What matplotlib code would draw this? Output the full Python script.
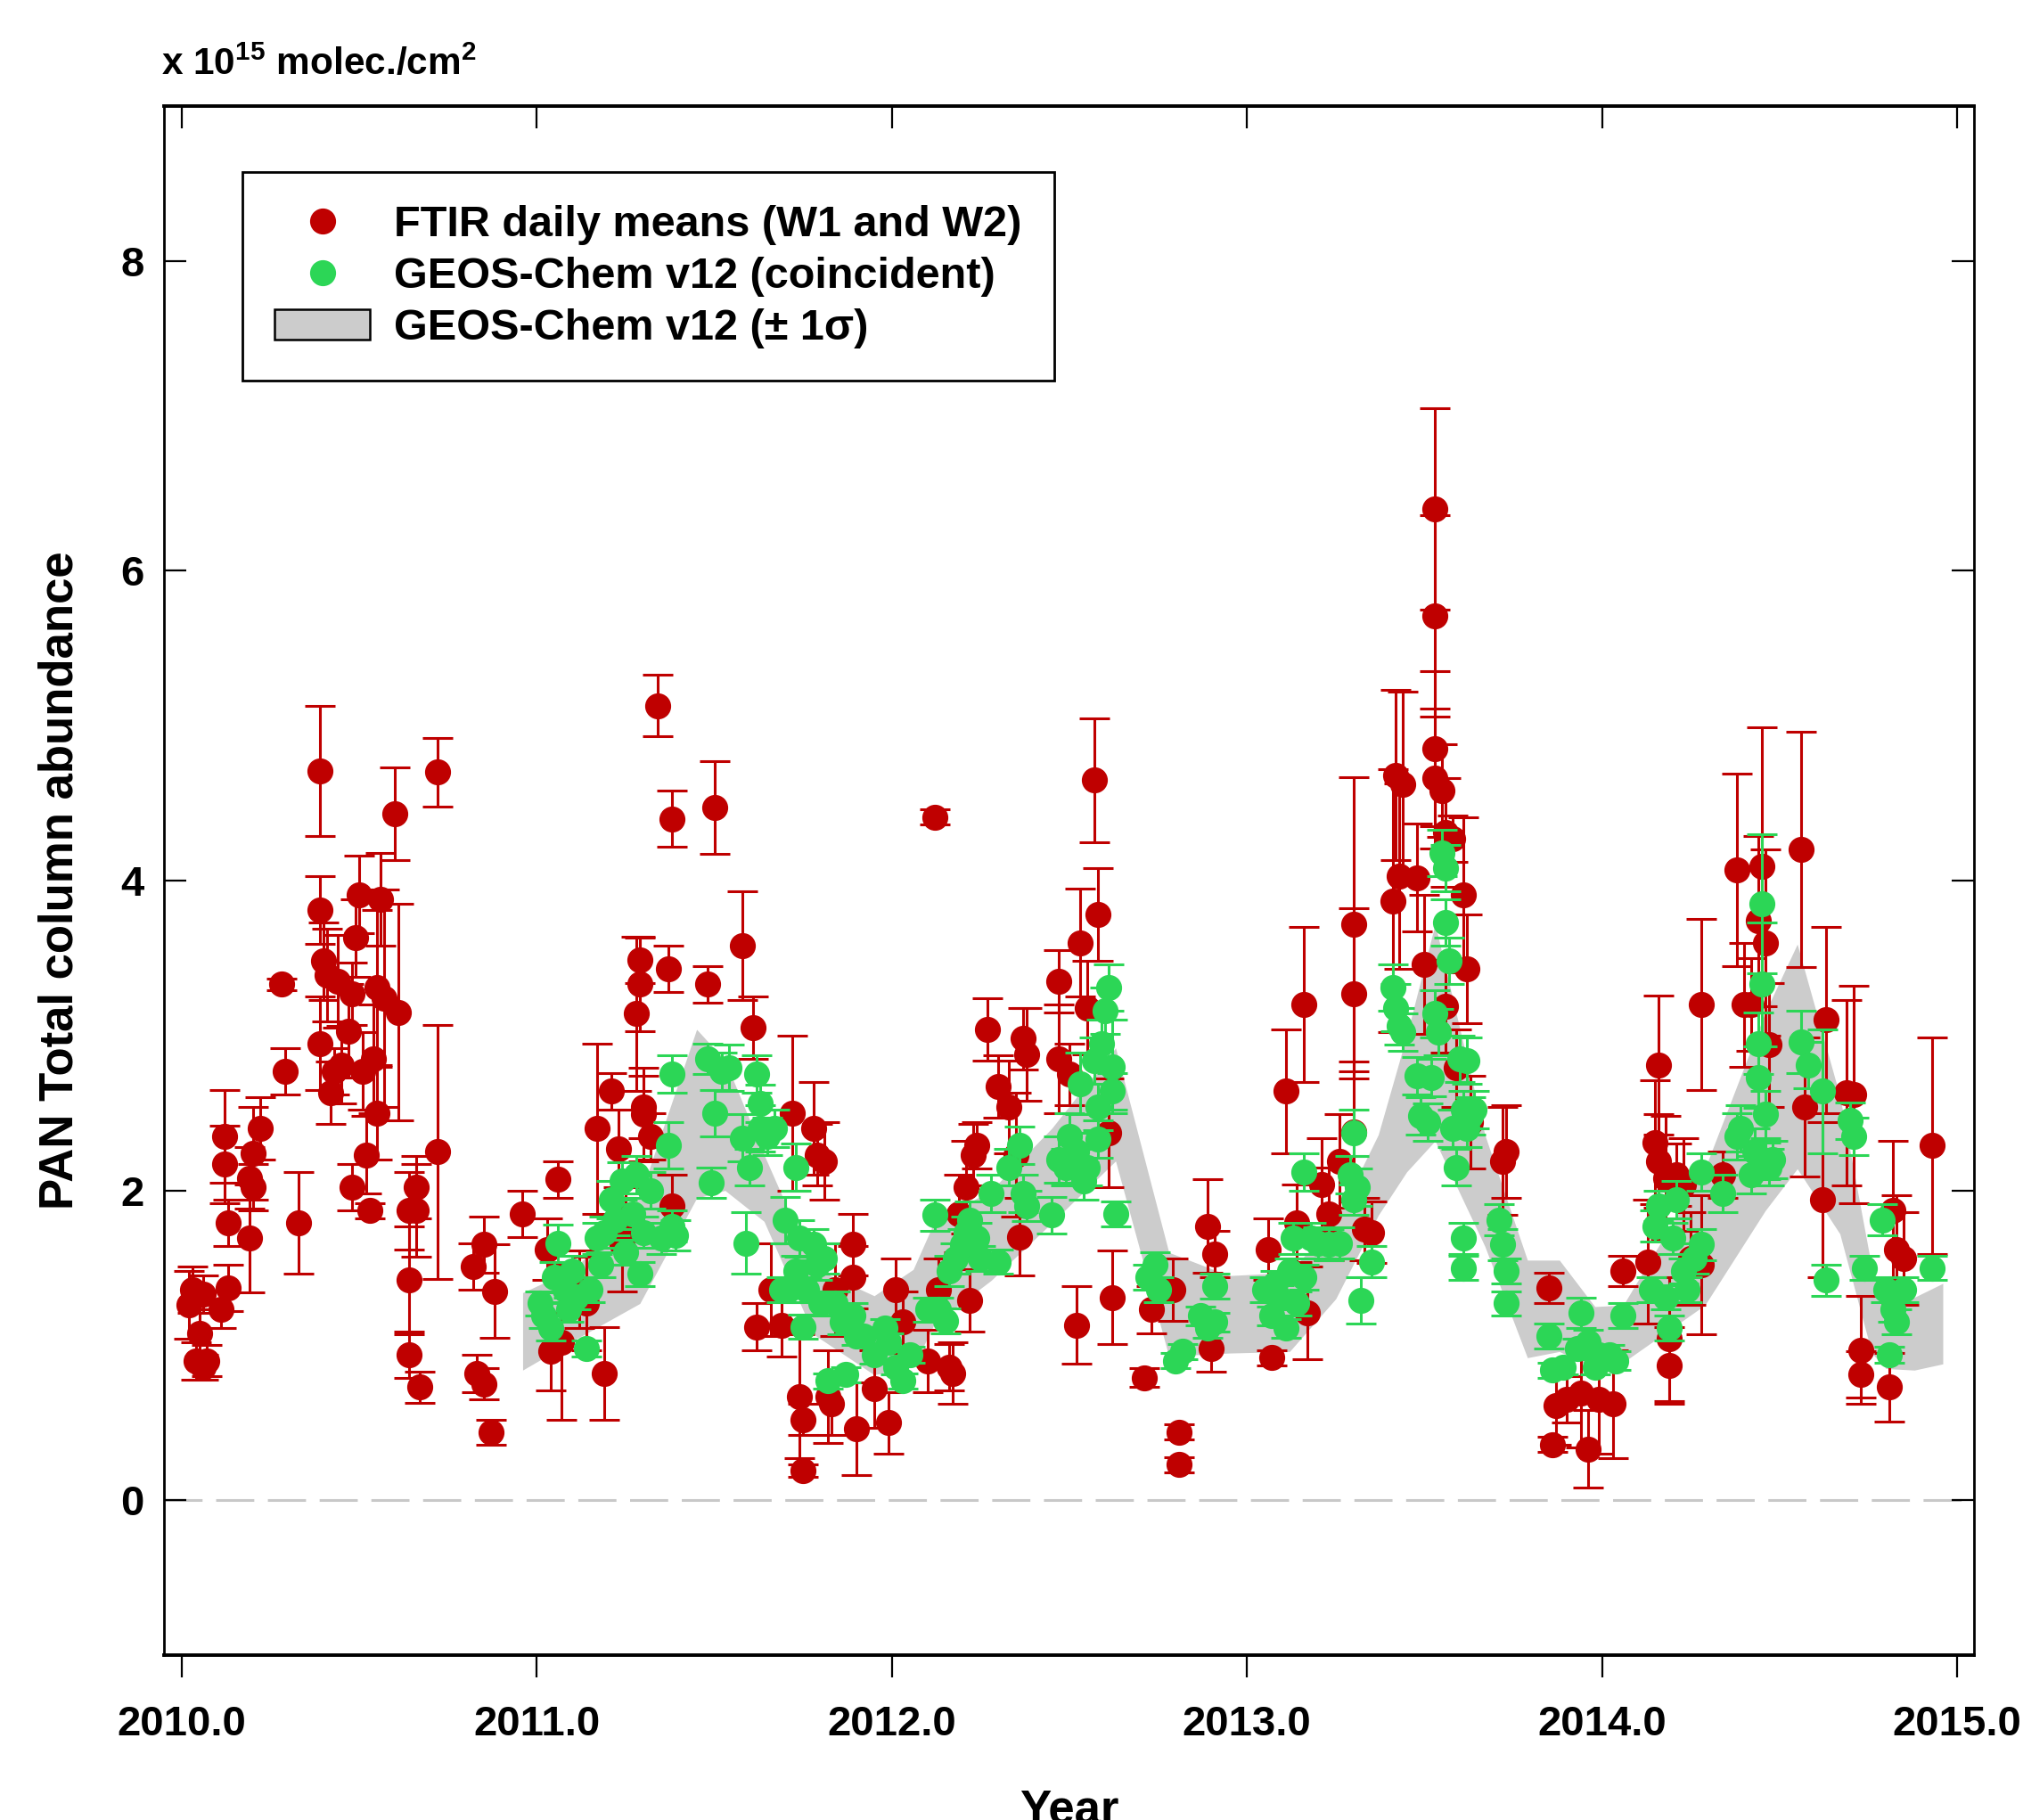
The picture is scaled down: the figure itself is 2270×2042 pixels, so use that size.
import matplotlib
matplotlib.use('Agg')
import matplotlib.pyplot as plt
from matplotlib.lines import Line2D
from matplotlib.patches import Patch

plt.rcParams['font.family'] = ['Liberation Sans', 'DejaVu Sans']
plt.rcParams['font.weight'] = 'bold'
plt.rcParams['mathtext.fontset'] = 'custom'
plt.rcParams['mathtext.bf'] = 'Liberation Sans:bold'
plt.rcParams['mathtext.rm'] = 'Liberation Sans:bold'

# FTIR daily means (W1 and W2), 1e15 molec/cm2
ftir_year = [2010.02, 2010.03, 2010.04, 2010.05, 2010.06, 2010.06, 2010.07, 2010.11, 2010.12, 2010.12,
             2010.13, 2010.13, 2010.19, 2010.19, 2010.20, 2010.20, 2010.22, 2010.28, 2010.29, 2010.33,
             2010.39, 2010.39, 2010.39, 2010.40, 2010.41, 2010.42, 2010.43, 2010.44, 2010.45, 2010.47,
             2010.48, 2010.48, 2010.49, 2010.50, 2010.51, 2010.52, 2010.53, 2010.54, 2010.55, 2010.55,
             2010.56, 2010.57, 2010.60, 2010.61, 2010.64, 2010.64, 2010.64, 2010.66, 2010.66, 2010.67,
             2010.72, 2010.72, 2010.82, 2010.83, 2010.85, 2010.85, 2010.87, 2010.88, 2010.96, 2011.03,
             2011.04, 2011.06, 2011.07, 2011.12, 2011.14, 2011.17, 2011.19, 2011.21, 2011.23, 2011.24,
             2011.25, 2011.28, 2011.29, 2011.29, 2011.30, 2011.30, 2011.32, 2011.34, 2011.37, 2011.38,
             2011.38, 2011.48, 2011.50, 2011.58, 2011.61, 2011.62, 2011.66, 2011.69, 2011.72, 2011.74,
             2011.75, 2011.75, 2011.78, 2011.79, 2011.81, 2011.82, 2011.83, 2011.84, 2011.89, 2011.89,
             2011.90, 2011.95, 2011.99, 2012.01, 2012.03, 2012.10, 2012.12, 2012.13, 2012.16, 2012.17,
             2012.19, 2012.21, 2012.22, 2012.23, 2012.24, 2012.27, 2012.30, 2012.33, 2012.35, 2012.36,
             2012.37, 2012.38, 2012.47, 2012.47, 2012.50, 2012.52, 2012.53, 2012.55, 2012.57, 2012.58,
             2012.61, 2012.62, 2012.71, 2012.73, 2012.79, 2012.81, 2012.81, 2012.89, 2012.90, 2012.91,
             2013.06, 2013.07, 2013.11, 2013.14, 2013.16, 2013.17, 2013.21, 2013.23, 2013.26, 2013.30,
             2013.30, 2013.30, 2013.33, 2013.35, 2013.41, 2013.42, 2013.43, 2013.44, 2013.48, 2013.50,
             2013.53, 2013.53, 2013.53, 2013.53, 2013.55, 2013.56, 2013.58, 2013.56, 2013.59, 2013.61,
             2013.62, 2013.63, 2013.72, 2013.73, 2013.85, 2013.86, 2013.87, 2013.90, 2013.94, 2013.96,
             2013.99, 2014.03, 2014.06, 2014.13, 2014.15, 2014.16, 2014.16, 2014.18, 2014.19, 2014.19,
             2014.21, 2014.23, 2014.25, 2014.28, 2014.28, 2014.34, 2014.38, 2014.40, 2014.42, 2014.44,
             2014.45, 2014.46, 2014.47, 2014.56, 2014.57, 2014.62, 2014.63, 2014.69, 2014.71, 2014.73,
             2014.73, 2014.81, 2014.82, 2014.83, 2014.85, 2014.93]
ftir_val = [1.26, 1.36, 0.90, 1.08, 0.86, 1.33, 0.90, 1.23, 2.35, 2.17,
            1.79, 1.37, 1.69, 2.08, 2.24, 2.02, 2.40, 3.33, 2.77, 1.79,
            4.71, 3.81, 2.95, 3.48, 3.39, 2.63, 2.77, 3.35, 2.81, 3.03,
            3.27, 2.02, 3.63, 3.91, 2.77, 2.23, 1.87, 2.85, 2.50, 3.31,
            3.88, 3.24, 4.43, 3.15, 1.42, 0.94, 1.87, 2.02, 1.87, 0.73,
            4.70, 2.25, 1.51, 0.82, 0.75, 1.65, 0.44, 1.35, 1.85, 1.62,
            0.96, 2.07, 1.02, 1.36, 1.27, 2.40, 0.82, 2.64, 2.27, 1.65,
            1.77, 3.14, 3.33, 3.49, 2.54, 2.49, 2.35, 5.13, 3.43, 4.40,
            1.90, 3.33, 4.47, 3.58, 3.05, 1.12, 1.36, 1.13, 2.50, 0.67,
            0.52, 0.19, 2.40, 2.23, 2.19, 0.67, 0.62, 1.36, 1.44, 1.65,
            0.46, 0.72, 0.50, 1.36, 1.15, 0.90, 4.41, 1.36, 0.86, 0.82,
            1.85, 2.02, 1.29, 2.23, 2.29, 3.04, 2.67, 2.54, 2.23, 1.70,
            2.98, 2.88, 3.35, 2.85, 2.75, 1.13, 3.60, 3.18, 4.65, 3.78,
            2.37, 1.31, 0.79, 1.23, 1.36, 0.44, 0.23, 1.77, 0.98, 1.59,
            1.62, 0.92, 2.64, 1.79, 3.20, 1.21, 2.04, 1.85, 2.19, 3.72,
            3.27, 2.38, 1.75, 1.73, 3.87, 4.68, 4.03, 4.62, 4.02, 3.46,
            6.40, 5.71, 4.85, 4.66, 4.58, 4.31, 4.27, 3.19, 2.79, 3.91,
            3.43, 2.44, 2.19, 2.25, 1.37, 0.36, 0.61, 0.65, 0.69, 0.33,
            0.65, 0.62, 1.48, 1.54, 2.31, 2.81, 2.19, 2.08, 0.87, 1.04,
            2.10, 2.04, 1.56, 3.20, 1.52, 2.10, 4.07, 3.20, 3.20, 3.74,
            4.09, 3.60, 2.94, 4.20, 2.54, 1.94, 3.10, 2.63, 2.62, 0.97,
            0.81, 0.73, 1.87, 1.62, 1.56, 2.29]
ftir_err = [0.22, 0.15, 0.12, 0.15, 0.08, 0.12, 0.10, 0.12, 0.30, 0.25,
            0.15, 0.15, 0.35, 0.20, 0.30, 0.15, 0.20, 0.04, 0.15, 0.33,
            0.42, 0.22, 0.30, 0.25, 0.30, 0.20, 0.15, 0.30, 0.25, 0.30,
            0.20, 0.15, 0.25, 0.25, 0.25, 0.25, 0.05, 0.35, 0.30, 0.50,
            0.30, 0.70, 0.30, 0.70, 0.35, 0.15, 0.25, 0.20, 0.30, 0.10,
            0.22, 0.82, 0.15, 0.12, 0.10, 0.18, 0.08, 0.30, 0.15, 0.20,
            0.25, 0.12, 0.50, 0.25, 0.30, 0.55, 0.30, 0.12, 0.25, 0.30,
            0.25, 0.50, 0.30, 0.15, 0.20, 0.30, 0.15, 0.20, 0.15, 0.18,
            0.20, 0.12, 0.30, 0.35, 0.20, 0.15, 0.30, 0.20, 0.50, 0.40,
            0.10, 0.04, 0.30, 0.20, 0.25, 0.30, 0.20, 0.30, 0.20, 0.20,
            0.30, 0.25, 0.20, 0.20, 0.20, 0.20, 0.05, 0.20, 0.15, 0.20,
            0.25, 0.30, 0.20, 0.20, 0.15, 0.20, 0.20, 0.30, 0.40, 0.25,
            0.20, 0.30, 0.20, 0.35, 0.20, 0.25, 0.35, 0.30, 0.40, 0.30,
            0.35, 0.30, 0.06, 0.15, 0.20, 0.05, 0.05, 0.30, 0.15, 0.15,
            0.20, 0.05, 0.40, 0.25, 0.50, 0.30, 0.30, 0.30, 0.30, 0.95,
            0.55, 0.45, 0.20, 0.20, 0.85, 0.55, 0.60, 0.60, 0.35, 0.45,
            0.65, 0.65, 0.50, 0.45, 0.30, 0.35, 0.15, 0.30, 0.25, 0.50,
            0.35, 0.30, 0.35, 0.30, 0.10, 0.05, 0.25, 0.15, 0.35, 0.25,
            0.35, 0.35, 0.10, 0.40, 0.40, 0.45, 0.30, 0.40, 0.25, 0.40,
            0.20, 0.30, 0.30, 0.55, 0.45, 0.15, 0.62, 0.40, 0.30, 0.55,
            0.90, 0.60, 0.40, 0.76, 0.45, 0.50, 0.60, 0.60, 0.70, 0.35,
            0.15, 0.22, 0.45, 0.35, 0.30, 0.70]

# GEOS-Chem v12 coincident with FTIR
gc_year = [2011.01, 2011.02, 2011.04, 2011.05, 2011.06, 2011.08, 2011.09, 2011.10, 2011.11, 2011.14,
           2011.15, 2011.17, 2011.18, 2011.19, 2011.21, 2011.22, 2011.24, 2011.25, 2011.27, 2011.28,
           2011.29, 2011.30, 2011.32, 2011.35, 2011.37, 2011.38, 2011.38, 2011.39, 2011.48, 2011.49,
           2011.50, 2011.52, 2011.54, 2011.58, 2011.59, 2011.60, 2011.62, 2011.63, 2011.63, 2011.65,
           2011.67, 2011.69, 2011.70, 2011.71, 2011.73, 2011.73, 2011.74, 2011.75, 2011.76, 2011.78,
           2011.79, 2011.80, 2011.81, 2011.82, 2011.84, 2011.86, 2011.87, 2011.89, 2011.90, 2011.92,
           2011.95, 2011.98, 2011.99, 2012.01, 2012.03, 2012.05, 2012.10, 2012.12, 2012.13, 2012.15,
           2012.16, 2012.18, 2012.20, 2012.21, 2012.22, 2012.24, 2012.25, 2012.28, 2012.30, 2012.33,
           2012.36, 2012.37, 2012.38, 2012.45, 2012.47, 2012.49, 2012.50, 2012.52, 2012.53, 2012.54,
           2012.55, 2012.57, 2012.58, 2012.58, 2012.59, 2012.60, 2012.61, 2012.62, 2012.62, 2012.63,
           2012.72, 2012.74, 2012.75, 2012.80, 2012.82, 2012.87, 2012.89, 2012.91, 2012.91, 2013.05,
           2013.07, 2013.08, 2013.09, 2013.11, 2013.12, 2013.13, 2013.14, 2013.16, 2013.16, 2013.18,
           2013.20, 2013.23, 2013.26, 2013.29, 2013.30, 2013.30, 2013.31, 2013.32, 2013.35, 2013.41,
           2013.42, 2013.43, 2013.44, 2013.48, 2013.49, 2013.51, 2013.52, 2013.53, 2013.54, 2013.55,
           2013.56, 2013.56, 2013.57, 2013.58, 2013.59, 2013.60, 2013.61, 2013.61, 2013.62, 2013.62,
           2013.63, 2013.64, 2013.61, 2013.71, 2013.72, 2013.73, 2013.73, 2013.85, 2013.86, 2013.89,
           2013.93, 2013.94, 2013.96, 2013.98, 2013.99, 2014.02, 2014.04, 2014.06, 2014.14, 2014.15,
           2014.16, 2014.18, 2014.19, 2014.20, 2014.21, 2014.23, 2014.24, 2014.26, 2014.28, 2014.28,
           2014.34, 2014.38, 2014.39, 2014.42, 2014.43, 2014.44, 2014.44, 2014.45, 2014.45, 2014.46,
           2014.46, 2014.47, 2014.48, 2014.56, 2014.58, 2014.62, 2014.63, 2014.70, 2014.71, 2014.74,
           2014.79, 2014.80, 2014.81, 2014.82, 2014.83, 2014.85, 2014.93]
gc_val = [1.27, 1.19, 1.11, 1.44, 1.66, 1.36, 1.23, 1.48, 1.31, 0.98,
          1.36, 1.69, 1.52, 1.73, 1.94, 1.81, 2.06, 1.60, 1.85, 2.10,
          1.46, 1.73, 2.00, 1.69, 2.29, 2.75, 1.77, 1.71, 2.85, 2.05,
          2.50, 2.77, 2.79, 2.34, 1.66, 2.15, 2.75, 2.56, 2.40, 2.35,
          2.40, 1.36, 1.81, 1.36, 2.15, 1.48, 1.69, 1.12, 1.36, 1.65,
          1.52, 1.27, 1.56, 0.77, 1.27, 1.15, 0.81, 1.19, 1.06, 1.06,
          0.94, 1.11, 1.02, 0.86, 0.77, 0.94, 1.23, 1.84, 1.23, 1.16,
          1.48, 1.56, 1.65, 1.73, 1.81, 1.69, 1.56, 1.98, 1.54, 2.15,
          2.29, 1.98, 1.90, 1.84, 2.20, 2.15, 2.35, 2.25, 2.69, 2.06,
          2.15, 2.84, 2.54, 2.33, 2.95, 3.16, 3.31, 2.64, 2.80, 1.85,
          1.44, 1.52, 1.36, 0.90, 0.96, 1.19, 1.11, 1.15, 1.38, 1.36,
          1.19, 1.40, 1.31, 1.11, 1.48, 1.69, 1.27, 2.12, 1.44, 1.69,
          1.66, 1.65, 1.66, 2.10, 1.94, 2.37, 2.02, 1.29, 1.54, 3.31,
          3.18, 3.06, 3.02, 2.74, 2.48, 2.44, 2.73, 3.14, 3.02, 4.18,
          4.08, 3.73, 3.48, 2.40, 2.15, 2.85, 1.69, 2.52, 2.40, 2.84,
          2.48, 2.52, 1.50, 1.81, 1.65, 1.48, 1.27, 1.06, 0.84, 0.86,
          0.98, 1.21, 1.02, 0.86, 0.94, 0.94, 0.90, 1.19, 1.36, 1.77,
          1.90, 1.31, 1.11, 1.69, 1.94, 1.48, 1.36, 1.56, 1.65, 2.12,
          1.98, 2.35, 2.40, 2.10, 2.25, 2.95, 2.73, 3.85, 3.33, 2.49,
          2.19, 2.15, 2.20, 2.96, 2.81, 2.64, 1.42, 2.45, 2.35, 1.50,
          1.81, 1.36, 0.94, 1.23, 1.15, 1.36, 1.50]
gc_err = [0.08, 0.08, 0.08, 0.10, 0.12, 0.08, 0.08, 0.10, 0.08, 0.05,
          0.08, 0.10, 0.08, 0.10, 0.12, 0.10, 0.12, 0.08, 0.10, 0.12,
          0.08, 0.10, 0.12, 0.10, 0.15, 0.12, 0.10, 0.10, 0.10, 0.10,
          0.15, 0.12, 0.15, 0.15, 0.20, 0.12, 0.12, 0.12, 0.15, 0.12,
          0.12, 0.08, 0.15, 0.08, 0.15, 0.10, 0.12, 0.08, 0.08, 0.10,
          0.10, 0.08, 0.10, 0.05, 0.08, 0.08, 0.05, 0.08, 0.06, 0.06,
          0.06, 0.06, 0.06, 0.05, 0.05, 0.05, 0.08, 0.10, 0.08, 0.08,
          0.10, 0.10, 0.10, 0.10, 0.12, 0.10, 0.08, 0.12, 0.08, 0.12,
          0.12, 0.12, 0.10, 0.12, 0.15, 0.12, 0.15, 0.12, 0.20, 0.12,
          0.12, 0.15, 0.15, 0.12, 0.15, 0.15, 0.15, 0.12, 0.30, 0.08,
          0.08, 0.08, 0.08, 0.05, 0.05, 0.06, 0.06, 0.06, 0.08, 0.08,
          0.06, 0.08, 0.08, 0.06, 0.08, 0.10, 0.08, 0.12, 0.08, 0.10,
          0.10, 0.10, 0.10, 0.12, 0.10, 0.15, 0.12, 0.15, 0.10, 0.15,
          0.15, 0.12, 0.12, 0.12, 0.12, 0.12, 0.12, 0.15, 0.15, 0.15,
          0.15, 0.15, 0.15, 0.12, 0.12, 0.15, 0.10, 0.12, 0.12, 0.15,
          0.12, 0.12, 0.08, 0.10, 0.10, 0.08, 0.08, 0.08, 0.05, 0.05,
          0.06, 0.10, 0.08, 0.05, 0.06, 0.06, 0.06, 0.08, 0.08, 0.10,
          0.10, 0.08, 0.08, 0.10, 0.12, 0.08, 0.08, 0.10, 0.10, 0.12,
          0.12, 0.15, 0.15, 0.12, 0.15, 0.20, 0.20, 0.45, 0.40, 0.15,
          0.12, 0.12, 0.12, 0.20, 0.15, 0.40, 0.10, 0.12, 0.12, 0.08,
          0.10, 0.08, 0.05, 0.08, 0.08, 0.08, 0.08]

# GEOS-Chem v12 +/- 1 sigma envelope
band_year = [2010.96, 2011.11, 2011.29, 2011.45, 2011.53, 2011.64, 2011.78, 2011.95, 2012.06, 2012.12,
             2012.28, 2012.45, 2012.63, 2012.78, 2012.95, 2013.12, 2013.25, 2013.37, 2013.45, 2013.53,
             2013.67, 2013.79, 2013.88, 2013.98, 2014.06, 2014.29, 2014.46, 2014.55, 2014.67, 2014.76,
             2014.80, 2014.88, 2014.96]
band_lo = [0.84, 1.04, 1.27, 1.95, 2.00, 1.80, 1.07, 0.81, 0.86, 1.14,
           1.42, 1.79, 2.19, 0.93, 0.95, 0.96, 1.30, 1.84, 2.12, 2.32,
           1.64, 0.92, 0.96, 0.85, 0.89, 1.26, 1.87, 2.14, 1.72, 0.95,
           0.85, 0.84, 0.88]
band_hi = [1.34, 1.50, 1.96, 3.04, 2.84, 2.23, 1.50, 1.32, 1.49, 1.80,
           2.00, 2.40, 2.92, 1.60, 1.45, 1.47, 1.80, 2.36, 3.00, 3.72,
           2.36, 1.55, 1.55, 1.25, 1.26, 2.14, 3.15, 3.59, 2.61, 1.50,
           1.30, 1.31, 1.40]

red = '#BF0000'
green = '#2CD656'
grey = '#CCCCCC'

fig = plt.figure(figsize=(22.70, 20.42), dpi=100)
ax = fig.add_axes([0.0811, 0.0906, 0.8947, 0.8511])

ax.fill_between(band_year, band_lo, band_hi, color=grey, lw=0, zorder=1)
ax.axhline(0, color='#C8C8C8', lw=2.2, dashes=(14, 5), zorder=0.5)

ax.errorbar(ftir_year, ftir_val, yerr=ftir_err, fmt='o', color=red, ms=20,
            elinewidth=2.2, capsize=12, capthick=2.2, zorder=2)
ax.errorbar(gc_year, gc_val, yerr=gc_err, fmt='o', color=green, ms=20,
            elinewidth=2.2, capsize=12, capthick=2.2, zorder=3)

ax.set_xlim(2009.95, 2015.048)
ax.set_ylim(-1, 9)
ax.set_xticks([2010, 2011, 2012, 2013, 2014, 2015])
ax.set_xticklabels(['2010.0', '2011.0', '2012.0', '2013.0', '2014.0', '2015.0'])
ax.set_yticks([0, 2, 4, 6, 8])

ax.tick_params(axis='x', which='major', direction='out', length=18, width=1.6,
               labelsize=34, pad=22, top=False)
ax.tick_params(axis='y', which='major', direction='in', length=18, width=1.6,
               labelsize=34, pad=16, right=True)
sec = ax.secondary_xaxis('top')
sec.set_xticks([2010, 2011, 2012, 2013, 2014, 2015])
sec.tick_params(direction='in', length=18, width=1.6, labeltop=False)
sec.spines['top'].set_visible(False)

for s in ['left', 'right']:
    ax.spines[s].set_linewidth(2.0)
for s in ['top', 'bottom']:
    ax.spines[s].set_linewidth(2.8)

ax.set_xlabel('Year', fontsize=38, fontweight='bold', labelpad=36)
ax.set_ylabel('PAN Total column abundance', fontsize=38, fontweight='bold')
ax.yaxis.set_label_coords(-0.045, 0.5)

fig.text(0.0797, 0.9589, r'x 10$^{\mathbf{15}}$ molec./cm$^{\mathbf{2}}$',
         fontsize=30.5, fontweight='bold', va='baseline', ha='left')

handles = [
    Line2D([], [], ls='none', marker='o', ms=20, color=red),
    Line2D([], [], ls='none', marker='o', ms=20, color=green),
    Patch(facecolor=grey, edgecolor='black', lw=1.8),
]
labels = ['FTIR daily means (W1 and W2)', 'GEOS-Chem v12 (coincident)', 'GEOS-Chem v12 (± 1σ)']
leg = ax.legend(handles, labels, loc='upper left', bbox_to_anchor=(0.0433, 0.9574),
                borderaxespad=0, frameon=True, fancybox=False,
                framealpha=1, edgecolor='black', handlelength=2.2, handleheight=0.7,
                handletextpad=0.55, borderpad=0.75, labelspacing=0.27,
                prop={'weight': 'bold', 'size': 35})
leg.get_frame().set_linewidth(2.0)

fig.savefig('out.png', dpi=100)
